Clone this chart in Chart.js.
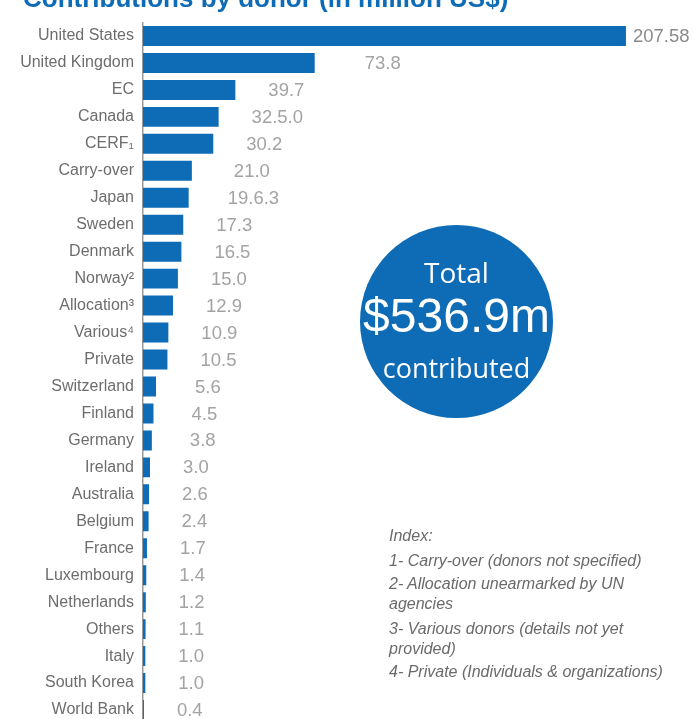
<!DOCTYPE html>
<html>
<head>
<meta charset="utf-8">
<script src="https://cdn.jsdelivr.net/npm/chart.js@4"></script>
<style>
  html, body { margin: 0; padding: 0; background: #fff; overflow: hidden; width: 693px; height: 719px; }
  #wrap { position: relative; width: 693px; height: 719px; overflow: hidden; }
  #cbox { position: absolute; left: 0; top: 0; width: 693px; height: 730px; }
  .title { position: absolute; left: 23px; top: -15px; font: bold 26px "Liberation Sans", Arial, sans-serif; line-height: 26px; color: #0e6bb5; white-space: nowrap; }
  .circle { position: absolute; left: 360px; top: 225px; width: 193px; height: 193px; border-radius: 50%; background: #0e6bb5; }
  .ct { position: absolute; left: 0; width: 100%; text-align: center; color: #fff; white-space: nowrap; }
  .idx { position: absolute; left: 389px; font: italic 16px "Liberation Sans", Arial, sans-serif; line-height: 19.5px; color: #6a6a6a; white-space: nowrap; }
</style>
</head>
<body>
<div id="wrap">
  <div id="cbox"><canvas id="c" width="693" height="730" style="width:693px;height:730px;"></canvas></div>
  <div class="title">Contributions by donor (in million US$)</div>
  <div class="circle">
    <div class="ct" style="top:33px;font:28px 'Open Sans',sans-serif;line-height:28px;">Total</div>
    <div class="ct" style="top:67px;font:48px 'Liberation Sans',Arial,sans-serif;line-height:48px;">$536.9m</div>
    <div class="ct" style="top:129px;font:27px 'Open Sans',sans-serif;line-height:27px;">contributed</div>
  </div>
  <div class="idx" style="top:526px;">Index:</div>
  <div class="idx" style="top:551px;">1- Carry-over (donors not specified)</div>
  <div class="idx" style="top:574px;">2- Allocation unearmarked by UN<br>agencies</div>
  <div class="idx" style="top:619px;">3- Various donors (details not yet<br>provided)</div>
  <div class="idx" style="top:662px;">4- Private (Individuals &amp; organizations)</div>
</div>
<script>
const donors = ["United States","United Kingdom","EC","Canada","CERF\u2081","Carry-over","Japan","Sweden","Denmark","Norway\u00B2","Allocation\u00B3","Various\u2074","Private","Switzerland","Finland","Germany","Ireland","Australia","Belgium","France","Luxembourg","Netherlands","Others","Italy","South Korea","World Bank"];
const contributions = [207.58, 73.8, 39.7, 32.5, 30.2, 21.0, 19.63, 17.3, 16.5, 15.0, 12.9, 10.9, 10.5, 5.6, 4.5, 3.8, 3.0, 2.6, 2.4, 1.7, 1.4, 1.2, 1.1, 1.0, 1.0, 0.4];
const valueLabels = ["207.58","73.8","39.7","32.5.0","30.2","21.0","19.6.3","17.3","16.5","15.0","12.9","10.9","10.5","5.6","4.5","3.8","3.0","2.6","2.4","1.7","1.4","1.2","1.1","1.0","1.0","0.4"];

const valueLabelPlugin = {
  id: 'valueLabels',
  afterDatasetsDraw(chart, args, opts) {
    const ctx = chart.ctx;
    const meta = chart.getDatasetMeta(0);
    const area = chart.chartArea;
    ctx.save();
    ctx.font = opts.font;
    ctx.textBaseline = 'middle';
    ctx.textAlign = 'left';
    meta.data.forEach((bar, i) => {
      const txt = valueLabels[i];
      const w = ctx.measureText(txt).width;
      let off = (opts.extraOffset[i] !== undefined) ? opts.extraOffset[i] : opts.offset;
      let x = bar.x + off;
      if (x + w > area.right) x = bar.x + opts.nearOffset;
      ctx.fillStyle = i === 0 ? opts.darkColor : opts.color;
      ctx.fillText(txt, x, bar.y + 1);
    });
    ctx.restore();
  }
};

new Chart(document.getElementById('c'), {
  type: 'bar',
  data: {
    labels: donors,
    datasets: [{
      data: contributions,
      backgroundColor: '#0e6bb5',
      borderWidth: 0,
      barPercentage: 0.74,
      categoryPercentage: 1.0
    }]
  },
  options: {
    indexAxis: 'y',
    responsive: false,
    maintainAspectRatio: false,
    animation: false,
    devicePixelRatio: 1,
    layout: { padding: { top: 22.5, bottom: 6.5, left: 0, right: 0 } },
    plugins: {
      legend: { display: false },
      tooltip: { enabled: false },
      title: { display: false },
      valueLabels: {
        font: '18.5px "Liberation Sans", Arial, sans-serif',
        color: '#a3a3a3',
        darkColor: '#8a8a8a',
        offset: 33,
        nearOffset: 7,
        extraOffset: { 1: 50, 5: 42, 6: 39, 13: 39, 14: 38, 15: 38 }
      }
    },
    scales: {
      x: { display: false, min: 0, max: 236.4 },
      y: {
        grid: { display: false, drawTicks: false },
        border: { display: true, color: '#9a9a9a', width: 1.5 },
        ticks: {
          color: '#6d6d6d',
          font: { family: '"Liberation Sans", "DejaVu Sans", Arial, sans-serif', size: 16 },
          padding: 9,
          autoSkip: false
        },
        afterFit(scale) { scale.width = 143; scale.paddingTop = 0; scale.paddingBottom = 0; }
      }
    }
  },
  plugins: [valueLabelPlugin]
});
</script>
</body>
</html>
